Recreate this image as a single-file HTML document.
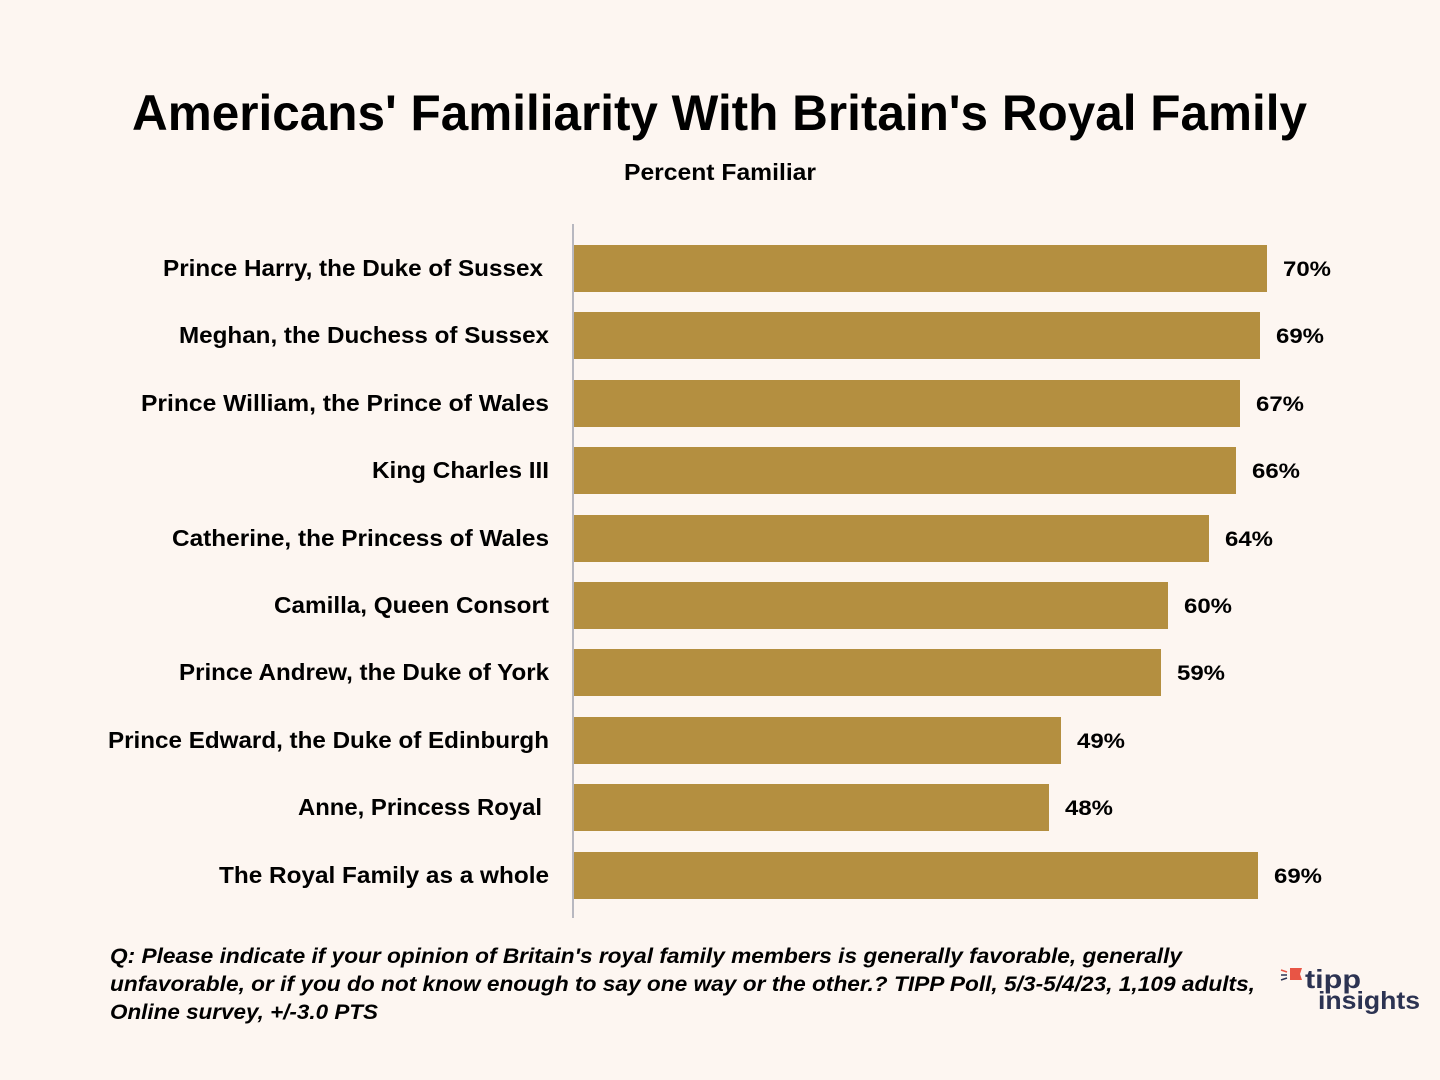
<!DOCTYPE html>
<html><head><meta charset="utf-8"><style>
html,body{margin:0;padding:0;background:#fdf6f1;}
svg{display:block;font-family:"Liberation Sans",sans-serif;}
</style></head><body>
<svg width="1440" height="1080" viewBox="0 0 1440 1080" xmlns="http://www.w3.org/2000/svg">
<rect width="1440" height="1080" fill="#fdf6f1"/>
<text x="132" y="130" font-size="50" font-weight="bold" fill="#000" textLength="1175" lengthAdjust="spacingAndGlyphs">Americans' Familiarity With Britain's Royal Family</text>
<text x="624" y="180" font-size="23" font-weight="bold" fill="#000" textLength="192" lengthAdjust="spacingAndGlyphs">Percent Familiar</text>
<line x1="573" y1="224" x2="573" y2="918" stroke="#b8b8c0" stroke-width="2"/>
<g fill="#b48f40">
<rect x="574" y="245" width="693" height="47"/>
<rect x="574" y="312" width="686" height="47"/>
<rect x="574" y="380" width="666" height="47"/>
<rect x="574" y="447" width="662" height="47"/>
<rect x="574" y="515" width="635" height="47"/>
<rect x="574" y="582" width="594" height="47"/>
<rect x="574" y="649" width="587" height="47"/>
<rect x="574" y="717" width="487" height="47"/>
<rect x="574" y="784" width="475" height="47"/>
<rect x="574" y="852" width="684" height="47"/>
</g>
<g font-size="23" font-weight="bold" fill="#000" lengthAdjust="spacingAndGlyphs">
<text x="163" y="276" textLength="380" lengthAdjust="spacingAndGlyphs">Prince Harry, the Duke of Sussex</text>
<text x="179" y="343" textLength="370" lengthAdjust="spacingAndGlyphs">Meghan, the Duchess of Sussex</text>
<text x="141" y="411" textLength="408" lengthAdjust="spacingAndGlyphs">Prince William, the Prince of Wales</text>
<text x="372" y="478" textLength="177" lengthAdjust="spacingAndGlyphs">King Charles III</text>
<text x="172" y="546" textLength="377" lengthAdjust="spacingAndGlyphs">Catherine, the Princess of Wales</text>
<text x="274" y="613" textLength="275" lengthAdjust="spacingAndGlyphs">Camilla, Queen Consort</text>
<text x="179" y="680" textLength="370" lengthAdjust="spacingAndGlyphs">Prince Andrew, the Duke of York</text>
<text x="108" y="748" textLength="441" lengthAdjust="spacingAndGlyphs">Prince Edward, the Duke of Edinburgh</text>
<text x="298" y="815" textLength="244" lengthAdjust="spacingAndGlyphs">Anne, Princess Royal</text>
<text x="219" y="883" textLength="330" lengthAdjust="spacingAndGlyphs">The Royal Family as a whole</text>
</g>
<g font-size="21" font-weight="bold" fill="#000">
<text x="1283" y="276" textLength="48" lengthAdjust="spacingAndGlyphs">70%</text>
<text x="1276" y="343" textLength="48" lengthAdjust="spacingAndGlyphs">69%</text>
<text x="1256" y="411" textLength="48" lengthAdjust="spacingAndGlyphs">67%</text>
<text x="1252" y="478" textLength="48" lengthAdjust="spacingAndGlyphs">66%</text>
<text x="1225" y="546" textLength="48" lengthAdjust="spacingAndGlyphs">64%</text>
<text x="1184" y="613" textLength="48" lengthAdjust="spacingAndGlyphs">60%</text>
<text x="1177" y="680" textLength="48" lengthAdjust="spacingAndGlyphs">59%</text>
<text x="1077" y="748" textLength="48" lengthAdjust="spacingAndGlyphs">49%</text>
<text x="1065" y="815" textLength="48" lengthAdjust="spacingAndGlyphs">48%</text>
<text x="1274" y="883" textLength="48" lengthAdjust="spacingAndGlyphs">69%</text>
</g>
<g font-size="21" font-weight="bold" font-style="italic" fill="#000">
<text x="110" y="963" textLength="1072" lengthAdjust="spacingAndGlyphs">Q: Please indicate if your opinion of Britain's royal family members is generally favorable, generally</text>
<text x="110" y="991" textLength="1145" lengthAdjust="spacingAndGlyphs">unfavorable, or if you do not know enough to say one way or the other.? TIPP Poll, 5/3-5/4/23, 1,109 adults,</text>
<text x="110" y="1019" textLength="268" lengthAdjust="spacingAndGlyphs">Online survey, +/-3.0 PTS</text>
</g>
<g>
<polygon points="1290,968 1302,968 1300,974 1302,980 1290,980" fill="#e85545"/>
<line x1="1281" y1="970" x2="1287" y2="972" stroke="#e85545" stroke-width="1.5"/>
<line x1="1281" y1="975" x2="1287" y2="975" stroke="#2c3352" stroke-width="1.5"/>
<line x1="1281" y1="980" x2="1287" y2="978" stroke="#2c3352" stroke-width="1.5"/>
<text x="1305" y="988" font-size="26" font-weight="bold" fill="#2c3352" textLength="56" lengthAdjust="spacingAndGlyphs">tipp</text>
<text x="1318" y="1009" font-size="25" font-weight="bold" fill="#2c3352" textLength="102" lengthAdjust="spacingAndGlyphs">insights</text>
</g>
</svg>
</body></html>
